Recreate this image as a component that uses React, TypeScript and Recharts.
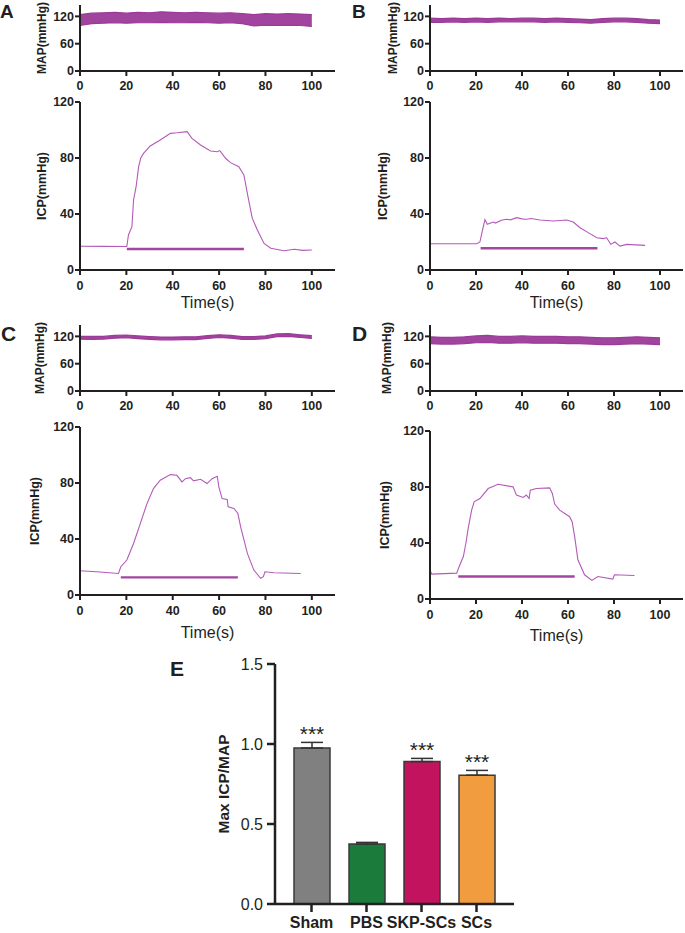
import {
  Area,
  Bar,
  BarChart,
  Cell,
  ComposedChart,
  ErrorBar,
  LabelList,
  Line,
  LineChart,
  XAxis,
  YAxis,
} from "recharts";

const FONT = '"Liberation Sans", Arial, Helvetica, sans-serif';
const INK = "#231f20";
const TRACE = "#b35ab8";
const BAND = "#9b3a98";
const STIM = "#a2469f";

const timeTicks = [0, 20, 40, 60, 80, 100];
const mapTicks = [0, 60, 120];
const icpTicks = [0, 40, 80, 120];

// MAP traces, read as low / high edge of the trace every 5 s
const mapTimes = [0, 5, 10, 15, 20, 25, 30, 35, 40, 45, 50, 55, 60, 65, 70, 75, 80, 85, 90, 95, 100];
const mapAHigh = [124, 127, 128, 129, 127, 129, 128, 130, 129, 128, 129, 128, 127, 128, 126, 124, 126, 125, 126, 125, 124];
const mapALow = [100, 104, 105, 106, 105, 106, 106, 107, 106, 106, 107, 106, 105, 106, 104, 99, 101, 100, 101, 100, 98];
const mapBHigh = [116, 115, 116, 115, 116, 115, 116, 115, 116, 116, 115, 116, 115, 114, 113, 115, 116, 116, 115, 113, 112];
const mapBLow = [107, 107, 108, 107, 108, 107, 108, 108, 108, 108, 107, 108, 107, 106, 105, 107, 108, 108, 107, 105, 104];
const mapCHigh = [120, 120, 120, 122, 123, 121, 119.5, 118.5, 118.5, 119, 119, 121.5, 123.5, 122, 119.5, 119.5, 121, 125.5, 126, 123.5, 121.5];
const mapCLow = [114, 113.5, 114, 116, 117, 115, 113.5, 112.5, 112.5, 113, 113, 115.5, 117.5, 116, 113.5, 113.5, 115, 119.5, 120, 117.5, 115.5];
const mapDHigh = [119, 118, 118, 119, 121, 122, 120, 120, 121, 120, 120, 120, 119, 119, 118, 117, 117, 118, 119, 118, 117];
const mapDLow = [104, 103, 103, 104, 106, 107, 105, 105, 106, 105, 105, 105, 104, 104, 103, 102, 102, 103, 104, 103, 102];

// ICP traces: [time s, mmHg]
const icpA: [number, number][] = [
  [0, 17], [10, 16.9], [20.2, 16.8], [20.9, 25], [22.4, 31], [23.1, 50], [24.2, 59.5], [25.3, 73.8],
  [26.2, 80], [27.4, 83.3], [30.3, 88.6], [34.6, 92.9], [39, 97.6], [41.9, 98], [46.2, 98.8], [48.3, 94],
  [52, 89.3], [56.3, 85], [59.2, 84.5], [60.3, 85.3], [62.8, 79.8], [64.9, 76.7], [68.5, 73.8], [70.7, 67.9],
  [72.5, 52], [74.3, 37], [76.5, 28.6], [79.4, 19], [82.3, 15.5], [88, 13.8], [92.4, 14.8], [96, 14], [100, 14.3],
];
const icpB: [number, number][] = [
  [0, 18.8], [20.3, 18.8], [21.7, 20], [22.9, 29], [23.9, 36], [24.9, 32.6], [27.5, 34.3], [28.5, 33.5],
  [31, 35.5], [33.3, 36.2], [35, 35.8], [37.7, 37.4], [40, 36.5], [42, 36.2], [44, 36.8], [47.8, 35.7],
  [53.6, 35], [59.4, 35.7], [62.3, 34.3], [65.2, 30.2], [68.8, 26.7], [72.5, 23], [75.4, 22.4], [76.8, 23],
  [78.6, 18.3], [80.4, 20], [82.6, 17.1], [85.5, 18.3], [93.5, 17.6],
];
const icpC: [number, number][] = [
  [0, 17.3], [7.2, 16.6], [16.6, 15.4], [17.6, 20.2], [20.2, 25], [23.1, 36.8], [26, 51], [28.9, 65.3],
  [31.7, 76], [34.6, 82], [39, 86], [41.8, 85.5], [44, 80.8], [45.5, 83.1], [47.6, 83.8], [49, 81.5],
  [52, 82.7], [54.8, 79.6], [57, 83.1], [59.2, 84.8], [59.9, 77.2], [61.3, 68.9], [63.5, 68.2], [63.9, 63],
  [66.4, 61.8], [68.1, 58.2], [69.3, 48.7], [72.2, 29.7], [75, 17.8], [77.9, 11.9], [79.1, 13.1], [79.8, 16.6],
  [83.7, 15.9], [95.2, 15.4],
];
const icpD: [number, number][] = [
  [0, 20.9], [0.7, 17.8], [11.6, 18.5], [12.7, 23.2], [14.5, 30.3], [15.6, 39.8], [16.6, 50.5], [18.1, 63.5],
  [19.2, 69.4], [21.7, 71.8], [25.3, 78.9], [29.6, 82], [36.1, 80.1], [37.6, 74.2], [40.5, 72.5], [41.9, 74.2],
  [43.1, 71.8], [43.6, 77.7], [46.2, 78.9], [52, 79.4], [53.2, 75.4], [54.2, 67.8], [56.4, 63.5], [60.7, 58.8],
  [61.8, 55.2], [62.9, 44.5], [64.3, 28], [67.2, 17.3], [70.4, 13.3], [73, 16.1], [79.5, 14.2], [80.2, 17.3],
  [88.9, 16.8],
];

// stimulation bars: [start s, end s, mmHg]
const stimA = [20.2, 70.7, 15];
const stimB = [22, 72.8, 15.5];
const stimC = [17.6, 68.1, 12.6];
const stimD = [12.3, 62.9, 16.1];

// panel E
const groups = ["Sham", "PBS", "SKP-SCs", "SCs"];
const ratio = [0.975, 0.375, 0.89, 0.805];
const errUp = [0.035, 0.01, 0.02, 0.03];
const stars = ["***", "", "***", "***"];
const barColors = ["#808080", "#1a7b3b", "#c1135e", "#f29c40"];
const ratioTicks = [0, 0.5, 1, 1.5];

const tickStyle = { fill: INK, fontSize: 12.5, fontWeight: 700, fontFamily: FONT };
const axisStyle = { stroke: INK, strokeWidth: 2 };

const sideLabel = (text: string, x: number, size: number) => (props: any) => {
  const vb = props.viewBox || { y: 0, height: 0 };
  const cy = vb.y + vb.height / 2;
  return (
    <text
      x={x}
      y={cy}
      transform={`rotate(-90 ${x} ${cy})`}
      textAnchor="middle"
      dominantBaseline="central"
      fontSize={size}
      fontWeight={700}
      fill={INK}
      fontFamily={FONT}
    >
      {text}
    </text>
  );
};

const timeLabel = (dy: number) => (props: any) => {
  const vb = props.viewBox || { x: 0, y: 0, width: 0 };
  return (
    <text x={vb.x + vb.width / 2} y={vb.y + dy} textAnchor="middle" fontSize={16} fill={INK} fontFamily={FONT}>
      Time(s)
    </text>
  );
};

type PanelProps = {
  left: number;
  width: number;
  right: number;
  mapTop: number;
  icpTop: number;
  mapLow: number[];
  mapHigh: number[];
  icp: [number, number][];
  stim: number[];
  mapLabelX: number;
  icpLabelX: number;
  timeDy: number;
};

function TracePanel(p: PanelProps) {
  const mapData = mapTimes.map((t, i) => ({ t, band: [p.mapLow[i], p.mapHigh[i]] }));
  const icpData = p.icp.map(([t, v]) => ({ t, v }));
  const stimData = [
    { t: p.stim[0], v: p.stim[2] },
    { t: p.stim[1], v: p.stim[2] },
  ];
  return (
    <>
      <div style={{ position: "absolute", left: p.left, top: p.mapTop }}>
        <ComposedChart width={p.width} height={96} data={mapData} margin={{ top: 5, right: p.right, left: 0, bottom: 0 }}>
          <XAxis
            dataKey="t"
            type="number"
            domain={[0, 110]}
            ticks={timeTicks}
            height={25}
            tick={tickStyle}
            tickSize={5}
            tickMargin={5}
            axisLine={axisStyle}
            tickLine={axisStyle}
          />
          <YAxis
            type="number"
            domain={[0, 145]}
            ticks={mapTicks}
            width={80}
            tick={tickStyle}
            tickSize={5}
            tickMargin={1}
            axisLine={axisStyle}
            tickLine={axisStyle}
            label={sideLabel("MAP(mmHg)", p.mapLabelX, 12)}
          />
          <Area
            dataKey="band"
            type="linear"
            stroke={BAND}
            strokeWidth={1.2}
            fill={BAND}
            fillOpacity={0.95}
            isAnimationActive={false}
          />
        </ComposedChart>
      </div>
      <div style={{ position: "absolute", left: p.left, top: p.icpTop }}>
        <LineChart width={p.width} height={230} margin={{ top: 12, right: p.right, left: 0, bottom: 10 }}>
          <XAxis
            dataKey="t"
            type="number"
            domain={[0, 110]}
            ticks={timeTicks}
            height={40}
            tick={tickStyle}
            tickSize={5}
            tickMargin={6}
            axisLine={axisStyle}
            tickLine={axisStyle}
            label={timeLabel(p.timeDy)}
          />
          <YAxis
            type="number"
            domain={[0, 120]}
            ticks={icpTicks}
            width={80}
            tick={tickStyle}
            tickSize={5}
            tickMargin={1}
            axisLine={axisStyle}
            tickLine={axisStyle}
            label={sideLabel("ICP(mmHg)", p.icpLabelX, 12.5)}
          />
          <Line data={icpData} dataKey="v" type="linear" stroke={TRACE} strokeWidth={1.1} dot={false} isAnimationActive={false} />
          <Line data={stimData} dataKey="v" type="linear" stroke={STIM} strokeWidth={2.4} dot={false} isAnimationActive={false} />
        </LineChart>
      </div>
    </>
  );
}

const starLabel = (props: any) => {
  const { x, y, width, height, index } = props;
  const s = stars[index];
  if (!s) return null;
  const perUnit = height / ratio[index];
  const top = y - errUp[index] * perUnit;
  return (
    <text x={x + width / 2} y={top - 1} textAnchor="middle" fontSize={21} fill={INK} fontFamily={FONT}>
      {s}
    </text>
  );
};

const letter = (ch: string, x: number, y: number, size: number) => (
  <text x={x} y={y} fontSize={size} fontWeight={700} fill={INK} fontFamily={FONT}>
    {ch}
  </text>
);

export default function App() {
  const barData = groups.map((name, i) => ({ name, value: ratio[i], err: [0, errUp[i]] }));
  return (
    <div style={{ position: "absolute", left: 0, top: 0, width: 685, height: 933, background: "#fff", fontFamily: FONT }}>
      <TracePanel left={0} width={345} right={10} mapTop={0} icpTop={90} mapLow={mapALow} mapHigh={mapAHigh}
        icp={icpA} stim={stimA} mapLabelX={42} icpLabelX={42} timeDy={38} />
      <TracePanel left={350} width={335} right={2} mapTop={0} icpTop={90} mapLow={mapBLow} mapHigh={mapBHigh}
        icp={icpB} stim={stimB} mapLabelX={43} icpLabelX={33} timeDy={38} />
      <TracePanel left={0} width={345} right={10} mapTop={320} icpTop={415} mapLow={mapCLow} mapHigh={mapCHigh}
        icp={icpC} stim={stimC} mapLabelX={40} icpLabelX={35} timeDy={43} />
      <TracePanel left={350} width={335} right={2} mapTop={320} icpTop={419} mapLow={mapDLow} mapHigh={mapDHigh}
        icp={icpD} stim={stimD} mapLabelX={37} icpLabelX={35} timeDy={42} />

      <div style={{ position: "absolute", left: 160, top: 640 }}>
        <BarChart width={360} height={293} data={barData} margin={{ top: 24, right: 6, left: 0, bottom: 0 }}>
          <XAxis
            dataKey="name"
            padding={{ left: 9, right: 10 }}
            height={29}
            tick={{ fill: INK, fontSize: 16, fontWeight: 700, fontFamily: FONT }}
            tickSize={8}
            tickMargin={5}
            interval={0}
            axisLine={{ stroke: INK, strokeWidth: 2.5 }}
            tickLine={{ stroke: INK, strokeWidth: 2.5 }}
          />
          <YAxis
            type="number"
            domain={[0, 1.5]}
            ticks={ratioTicks}
            tickFormatter={(v: number) => v.toFixed(1)}
            width={115}
            tick={{ fill: INK, fontSize: 16, fontFamily: FONT }}
            tickSize={8}
            tickMargin={4}
            axisLine={{ stroke: INK, strokeWidth: 2.5 }}
            tickLine={{ stroke: INK, strokeWidth: 2.5 }}
            label={sideLabel("Max ICP/MAP", 63, 15.5)}
          />
          <Bar dataKey="value" barSize={36} stroke="#3a3a3a" strokeWidth={1.5} isAnimationActive={false}>
            {barData.map((d, i) => (
              <Cell key={d.name} fill={barColors[i]} />
            ))}
            <ErrorBar dataKey="err" width={11} stroke="#333" strokeWidth={1.5} />
            <LabelList dataKey="name" content={starLabel} />
          </Bar>
        </BarChart>
      </div>

      <svg width={685} height={933} style={{ position: "absolute", left: 0, top: 0, pointerEvents: "none" }}>
        {letter("A", 0, 18, 19)}
        {letter("B", 352, 18, 19)}
        {letter("C", 1, 341, 21)}
        {letter("D", 352, 341, 21)}
        {letter("E", 170, 676, 21)}
      </svg>
    </div>
  );
}
